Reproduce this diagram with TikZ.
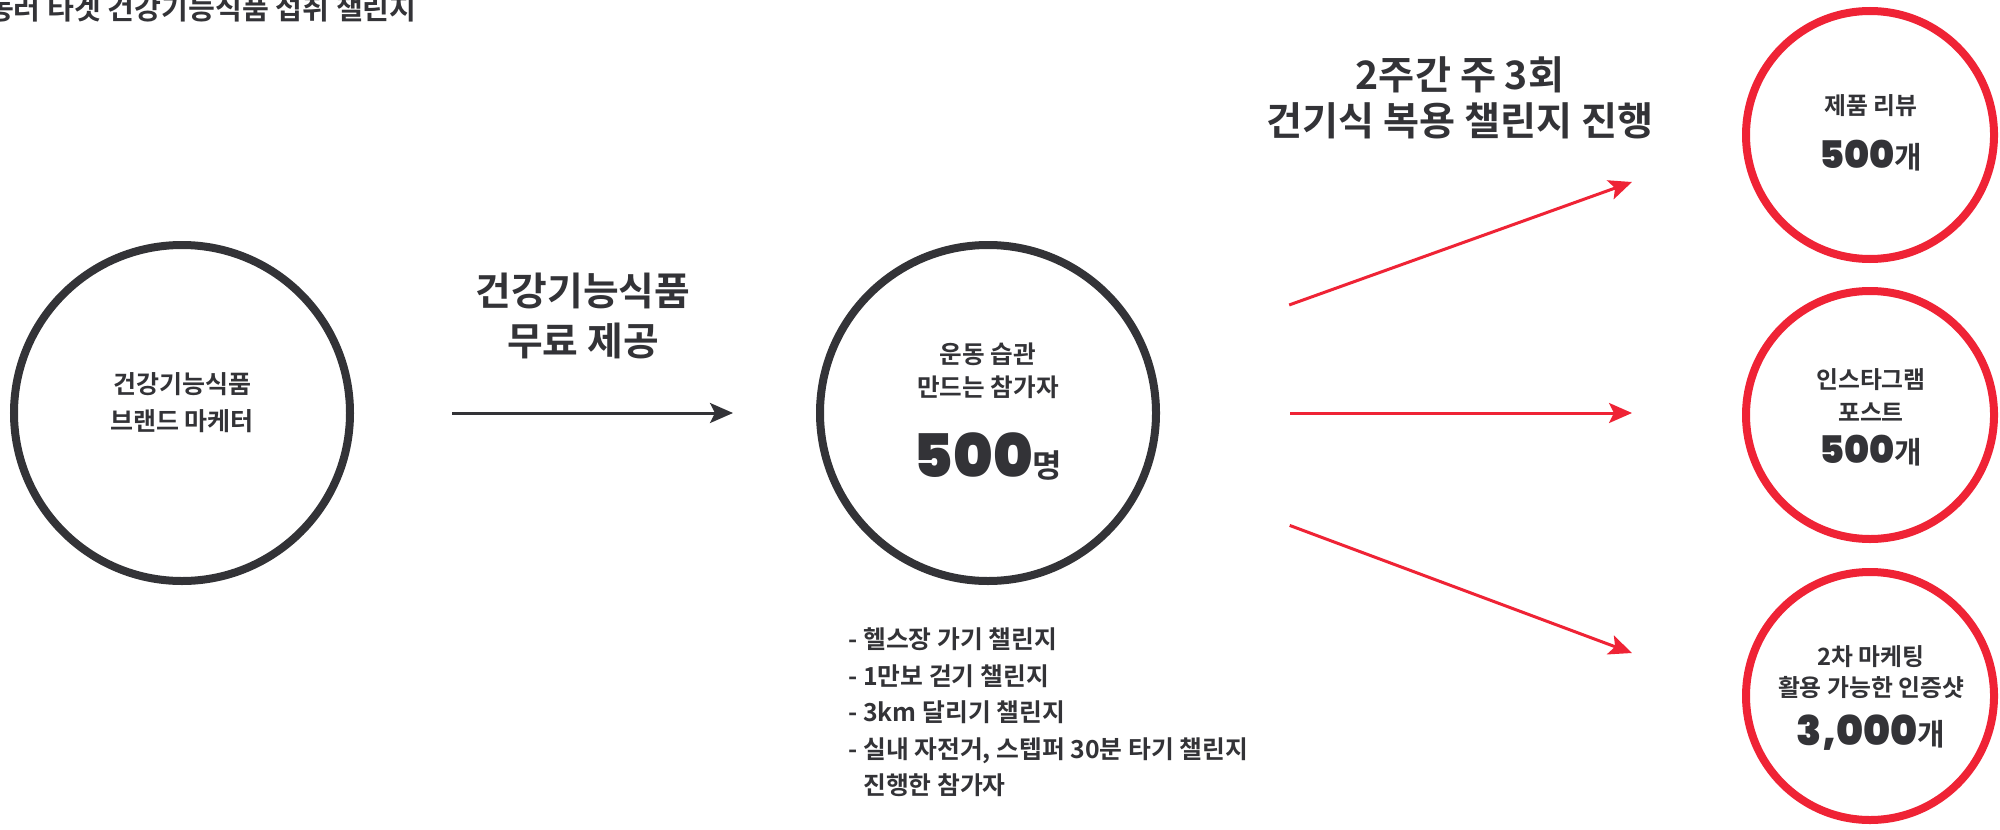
\documentclass[tikz,border=0pt]{standalone}
\usepackage{fontspec}
\setmainfont{Noto Sans CJK KR}[BoldFont={Noto Sans CJK KR Bold}]
\newfontfamily\numfont{Poppins ExtraBold}
\usetikzlibrary{arrows.meta}

\definecolor{inkdark}{RGB}{51,51,55}
\definecolor{accentred}{RGB}{239,35,53}

\tikzset{
  ring/.style={circle, draw=inkdark, line width=4pt, minimum size=168pt, inner sep=0pt},
  redring/.style={circle, draw=accentred, line width=4pt, minimum size=124pt, inner sep=0pt},
  txt/.style={text=inkdark, inner sep=0pt, align=center},
  flow/.style={draw=inkdark, line width=1.5pt, -{Stealth[length=11.5pt,width=10pt,inset=2.5pt]}},
  redflow/.style={flow, draw=accentred}
}

\begin{document}
\begin{tikzpicture}[x=0.5pt, y=-0.5pt]
    \useasboundingbox (0,0) rectangle (2000,829);
    \fill[white] (0,0) rectangle (2000,829);

    % 제목 (왼쪽이 잘린 채로)
    \node[txt, anchor=base east, font=\bfseries\fontsize{14.6}{14.6}\selectfont] (title) at (417,20)
      {운동러 타겟 건강기능식품 섭취 챌린지};

    % 브랜드 마케터
    \node[ring] (brand) at (182,413) {};
    \node[txt, font=\bfseries\fontsize{12.5}{18.75}\selectfont] (brandtxt) at (182,402.5)
      {건강기능식품\\브랜드 마케터};

    % 참가자 500명
    \node[ring] (participant) at (988,413) {};
    \node[txt, font=\bfseries\fontsize{12.3}{16.5}\selectfont] (participanttxt) at (988,371)
      {운동 습관\\만드는 참가자};
    \node[txt, anchor=base, font=\bfseries] (participantnum) at (988,477)
      {\numfont\fontsize{30}{30}\selectfont 500\rmfamily\fontsize{16}{16}\selectfont 명};

    % 참가자 조건
    \node[txt, align=left, anchor=west, font=\bfseries\fontsize{12.4}{18.25}\selectfont] (habits) at (848,712.5)
      {- 헬스장 가기 챌린지\\- 1만보 걷기 챌린지\\- 3km 달리기 챌린지\\- 실내 자전거, 스텝퍼 30분 타기 챌린지\\\hphantom{- }진행한 참가자};

    % 제품 제공 화살표
    \node[txt, font=\bfseries\fontsize{19.4}{25}\selectfont] (freelbl) at (583,315.5)
      {건강기능식품\\무료 제공};
    \draw[flow, shorten <=49pt, shorten >=41.5pt] (brand) -- (participant);

    % 결과 (빨간 원)
    \node[redring] (review) at (1870,135) {};
    \node[txt, font=\bfseries\fontsize{11.9}{11.9}\selectfont] (reviewtxt) at (1871,106) {제품 리뷰};
    \node[txt, anchor=base, font=\bfseries] (reviewnum) at (1871,168)
      {\numfont\fontsize{19}{19}\selectfont 500\rmfamily\fontsize{15}{15}\selectfont 개};

    \node[redring] (insta) at (1870,415) {};
    \node[txt, font=\bfseries\fontsize{11.9}{16.5}\selectfont] (instatxt) at (1871,395) {인스타그램\\포스트};
    \node[txt, anchor=base, font=\bfseries] (instanum) at (1871,463)
      {\numfont\fontsize{19}{19}\selectfont 500\rmfamily\fontsize{15}{15}\selectfont 개};

    \node[redring] (proof) at (1870,696) {};
    \node[txt, font=\bfseries\fontsize{11.9}{15.5}\selectfont] (prooftxt) at (1871,672)
      {2차 마케팅\\활용 가능한 인증샷};
    \node[txt, anchor=base, font=\bfseries] (proofnum) at (1871,745)
      {\numfont\fontsize{20.5}{20.5}\selectfont 3,000\rmfamily\fontsize{15}{15}\selectfont 개};

    % 챌린지 화살표
    \node[txt, font=\bfseries\fontsize{19.6}{23}\selectfont] (challenge) at (1460,97.5)
      {2주간 주 3회\\건기식 복용 챌린지 진행};
    \coordinate (tipA) at (1632,182);
    \coordinate (tipB) at (1632,413);
    \coordinate (tipC) at (1632,653);
    \foreach \tip/\gap in {tipA/74pt, tipB/65pt, tipC/75pt}
      \draw[redflow, shorten <=\gap] (participant) -- (\tip);
\end{tikzpicture}
\end{document}
